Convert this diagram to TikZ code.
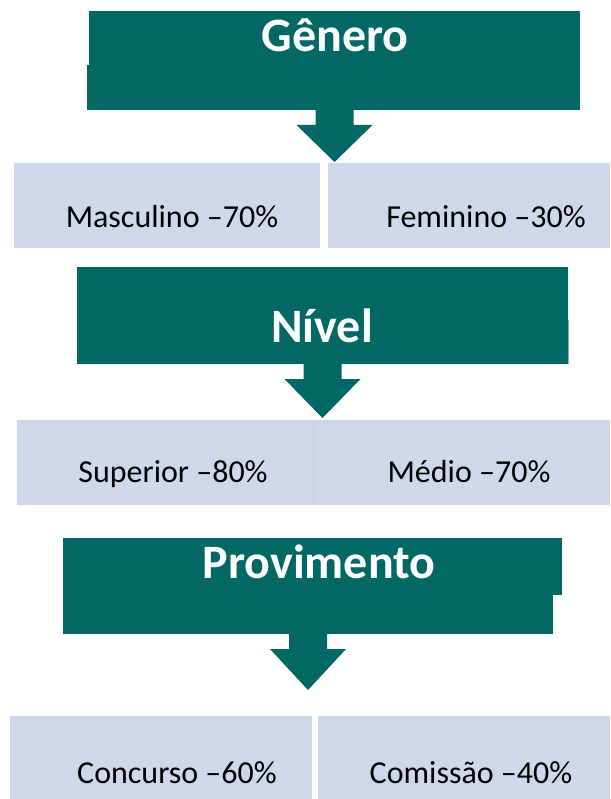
\documentclass[tikz,border=0pt]{standalone}
\usepackage{fontspec}
\setmainfont{Carlito}
\usetikzlibrary{calc}
\definecolor{teal0}{RGB}{1,104,100}
\definecolor{lightbox}{RGB}{207,216,235}
\definecolor{divline}{RGB}{196,206,228}
\newcommand{\blockarr}[2]{%
  \fill[teal0] ($(#1)+(-19,-1)$) -- ($(#1)+(-19,15)$) -- ($(#1)+(-38,15)$) --
    ($(#1)+(0,#2)$) -- ($(#1)+(38,15)$) -- ($(#1)+(19,15)$) -- ($(#1)+(19,-1)$) -- cycle;}
\begin{document}
\begin{tikzpicture}[x=1pt,y=-1pt,
  headbox/.style={fill=teal0, draw=none, inner sep=0, outer sep=0, anchor=north west},
  itembox/.style={fill=lightbox, draw=none, inner sep=0, outer sep=0, anchor=north west},
  headtext/.style={text=white, font=\fontsize{48}{48}\selectfont\bfseries, anchor=base, inner sep=0},
  itemtext/.style={text=black, font=\fontsize{32}{32}\selectfont, anchor=base, inner sep=0}]
\useasboundingbox[fill=white] (0,0) rectangle (610,799);

% ---- Genero ----
\node[headbox, minimum width=491pt, minimum height=99pt] (gen) at (89,11) {};
\fill[teal0] (87,65) rectangle (89,110);
\node[headtext] (gent) at (335,52) {Gênero};
\blockarr{gen.south}{52}
\node[itembox, minimum width=306pt, minimum height=85pt] (masc) at (14,163) {};
\node[itembox, minimum width=282pt, minimum height=85pt] (fem) at (328,163) {};
\node[itemtext] (masct) at (172,228) {Masculino –70\%};
\node[itemtext] (femt) at (486,228) {Feminino –30\%};

% ---- Nivel ----
\node[headbox, minimum width=491pt, minimum height=97pt] (niv) at (77,267) {};
\draw[line width=1pt, color={rgb,255:red,150;green,170;blue,170}] (568.5,320) -- (568.5,364);
\node[headtext] (nivt) at (322,342) {Nível};
\blockarr{niv.south}{54}
\node[itembox, minimum width=296pt, minimum height=85pt] (sup) at (17,420) {};
\node[itembox, minimum width=297pt, minimum height=85pt] (med) at (313,420) {};
\draw[divline, line width=1pt] (sup.north east) -- (sup.south east);
\node[itemtext] (supt) at (173,482) {Superior –80\%};
\node[itemtext] (medt) at (469,482) {Médio –70\%};

% ---- Provimento ----
\node[headbox, minimum width=490pt, minimum height=96pt] (prov) at (63,538) {};
\fill[teal0] (553,538) rectangle (562,595);
\node[headtext] (provt) at (319,578) {Provimento};
\blockarr{prov.south}{56}
\node[itembox, minimum width=302pt, minimum height=83pt] (conc) at (10,716) {};
\node[itembox, minimum width=292pt, minimum height=83pt] (com) at (318,716) {};
\node[itemtext] (conct) at (177,783) {Concurso –60\%};
\node[itemtext] (comt) at (471,783) {Comissão –40\%};
\end{tikzpicture}
\end{document}
